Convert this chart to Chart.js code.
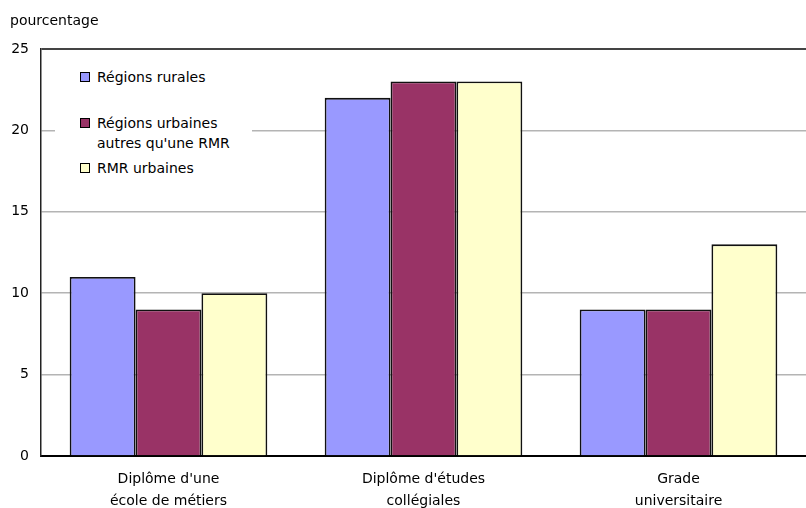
<!DOCTYPE html>
<html>
<head>
<meta charset="utf-8">
<script src="https://cdn.jsdelivr.net/npm/chart.js@4/dist/chart.umd.min.js"></script>
<style>
  html, body { margin: 0; padding: 0; background: #fff; }
  #wrap { position: relative; width: 806px; height: 508px; font-family: "DejaVu Sans", sans-serif; font-size: 14px; color: #000; }
  #c { position: absolute; left: 0; top: 0; }
  #unit { position: absolute; left: 10px; top: 11px; line-height: 18px; }
  #legend { position: absolute; left: 55px; top: 58px; width: 197px; height: 128px; background: #fff; }
  .item { position: absolute; left: 25px; line-height: 20px; white-space: pre-line; }
  .sw { position: absolute; left: 0; top: 5px; width: 8px; height: 8px; border: 1px solid #000; }
  .txt { position: absolute; left: 17px; top: 0; white-space: pre; }
</style>
</head>
<body>
<div id="wrap">
  <canvas id="c" width="806" height="508"></canvas>
  <div id="unit">pourcentage</div>
  <div id="legend"></div>
</div>
<script>
// Education level categories (two-line labels)
const categories = [
  ["Diplôme d'une", "école de métiers"],
  ["Diplôme d'études", "collégiales"],
  ["Grade", "universitaire"]
];
const seriesNames = ["Régions rurales", "Régions urbaines\nautres qu'une RMR", "RMR urbaines"];
const rural = [11, 22, 9];
const urbanNonCma = [9, 23, 9];
const urbanCma = [10, 23, 13];
const yTicks = [0, 5, 10, 15, 20, 25];

const colors = ["#9999FF", "#993366", "#FFFFCC"];
const values = [rural, urbanNonCma, urbanCma];
const FONT = { family: "DejaVu Sans", size: 14 };

// Legend rows (top offsets within the legend box)
const rowTops = [9, 55, 100];
const legend = document.getElementById('legend');
seriesNames.forEach((name, i) => {
  const item = document.createElement('div');
  item.className = 'item';
  item.style.top = rowTops[i] + 'px';
  item.innerHTML = '<span class="sw" style="background:' + colors[i] + '"></span><span class="txt"></span>';
  item.querySelector('.txt').textContent = name;
  legend.appendChild(item);
});

new Chart(document.getElementById('c'), {
  type: 'bar',
  data: {
    labels: categories,
    datasets: values.map((v, i) => ({
      label: seriesNames[i],
      data: v,
      backgroundColor: colors[i],
      borderColor: '#111',
      borderWidth: 1.8,
      barPercentage: 1,
      categoryPercentage: 0.775
    }))
  },
  options: {
    responsive: false,
    animation: false,
    layout: { padding: { top: 49, right: 0, left: 0, bottom: 0 } },
    plugins: { legend: { display: false }, tooltip: { enabled: false } },
    scales: {
      x: {
        grid: { display: false },
        border: { display: true, color: '#000', width: 2 },
        ticks: { color: '#000', font: { ...FONT, lineHeight: 1.55 }, padding: 5, maxRotation: 0, autoSkip: false },
        afterFit: s => { s.height = 52; }
      },
      y: {
        min: 0,
        max: 25,
        afterBuildTicks: s => { s.ticks = yTicks.map(v => ({ value: v })); },
        grid: {
          drawTicks: false,
          color: ctx => (ctx.tick && ctx.tick.value === 25) ? '#444' : '#b4b4b4',
          lineWidth: ctx => (ctx.tick && ctx.tick.value === 25) ? 2 : 1.5
        },
        border: { display: true, color: '#222', width: 1.5 },
        ticks: { color: '#000', font: FONT, padding: 12 },
        afterFit: s => { s.width = 41; }
      }
    }
  }
});
</script>
</body>
</html>
